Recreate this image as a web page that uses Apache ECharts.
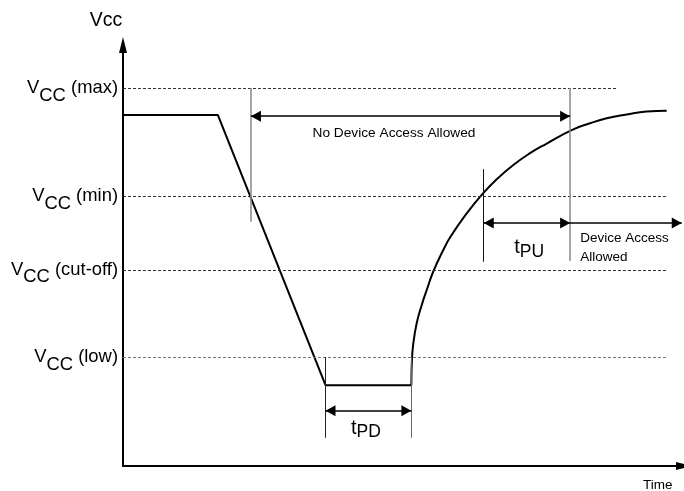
<!DOCTYPE html>
<html><head><meta charset="utf-8">
<script src="https://cdn.jsdelivr.net/npm/echarts@6/dist/echarts.min.js"></script>
<style>html,body{margin:0;padding:0;background:#fff}#c{width:684px;height:491px}</style>
</head><body><div id="c"></div>
<script>
const FONT = '"Liberation Sans",Arial,Helvetica,sans-serif';

// Supply voltage levels (y axis units 0..100)
const levelLabels = ['max', 'min', 'cut-off', 'low'];
const levelValues = [89.8, 64.1, 46.6, 25.8];
const levelLineEnds = [88.2, 97.0, 97.0, 97.0];

// Power-down part of Vcc (time, volts)
const fallTimes = [0, 16.9, 36.1, 51.4];
const fallVolts = [83.4, 83.4, 19.2, 19.2];

// Power-up recovery curve of Vcc
const riseTimes = [51.4, 51.5, 51.75, 52.35, 53.24, 54.14, 55.31, 57.09, 58.4, 61.27, 63.94, 66.61, 69.57, 72.55, 75.53, 79.98, 83.24, 86.22, 89.79, 93.35, 96.92];
const riseVolts = [19.2, 25.2, 29.1, 33.9, 38.2, 41.8, 46.2, 51.3, 54.5, 60.0, 64.4, 68.1, 71.5, 74.3, 76.6, 79.8, 81.4, 82.6, 83.5, 84.2, 84.4];

// Vertical timing guide lines
const guideTimes = [22.8, 79.7, 64.3, 36.1, 51.4];
const guideTops = [89.8, 89.8, 70.5, 25.9, 25.9];
const guideBottoms = [58.0, 48.7, 48.5, 6.7, 6.7];

// Dimension arrows
const arrowFrom = [22.8, 64.3, 79.7, 36.1];
const arrowTo = [79.7, 79.7, 99.6, 51.4];
const arrowLevel = [83.1, 57.7, 57.7, 13.1];
const arrowBothEnds = [true, true, false, true];

// Annotation texts and anchors
const noteTexts = ['No Device Access Allowed', '{t|t}{p|PU}', '{t|t}{p|PD}', 'Device Access\nAllowed'];
const noteTimes = [48.3, 72.4, 43.3, 81.5];
const noteVolts = [79.1, 51.8, 9.0, 51.9];

const fallData = fallTimes.map((t, i) => [t, fallVolts[i]]);
const riseData = riseTimes.map((t, i) => [t, riseVolts[i]]);

const richSub = {
  v: { fontSize: 18.4, fontFamily: FONT, color: '#000' },
  s: { fontSize: 18.4, fontFamily: FONT, color: '#000', padding: [15, 0, 0, 0] },
  t: { fontSize: 20, fontFamily: FONT, color: '#000' },
  p: { fontSize: 17.5, fontFamily: FONT, color: '#000', padding: [8, 0, 0, 0] }
};

const levelLines = levelValues.map((v, i) => [
  {
    coord: [0, v], symbol: 'none',
    lineStyle: { type: [3, 2], color: i === 3 ? '#777' : '#333', width: 1 },
    label: { show: true, position: 'start', distance: 5, formatter: '{v|V}{s|CC}{v| (' + levelLabels[i] + ')}', rich: richSub }
  },
  { coord: [levelLineEnds[i], v], symbol: 'none' }
]);

const guideColors = ['#888', '#888', '#111', '#222', '#666'];
const guideWidths = [1.5, 1.5, 1, 1, 1];
const guideLines = guideTimes.map((t, i) => [
  { coord: [t, guideTops[i]], symbol: 'none', lineStyle: { type: 'solid', color: guideColors[i], width: guideWidths[i] } },
  { coord: [t, guideBottoms[i]], symbol: 'none' }
]);

const head = { symbol: 'triangle', symbolSize: [11, 10], symbolOffset: [0, 5] };
const arrowLines = arrowFrom.map((f, i) => [
  Object.assign({ coord: [f, arrowLevel[i]], lineStyle: { type: 'solid', color: '#000', width: 1.5 } },
    arrowBothEnds[i] ? head : { symbol: 'none' }),
  Object.assign({ coord: [arrowTo[i], arrowLevel[i]] }, head)
]);

const notes = noteTexts.map((txt, i) => {
  const item = { coord: [noteTimes[i], noteVolts[i]], value: txt, label: { formatter: txt, rich: richSub } };
  if (i === 0) item.label.fontSize = 13.7;
  if (i === 3) Object.assign(item.label, { position: 'right', distance: 0, fontSize: 13.5, lineHeight: 19 });
  return item;
});

const chart = echarts.init(document.getElementById('c'), null, { renderer: 'canvas' });
chart.setOption({
  animation: false,
  backgroundColor: '#fff',
  grid: { left: 123, right: 0, top: 45, bottom: 25, containLabel: false, outerBoundsMode: 'none' },
  xAxis: {
    type: 'value', min: 0, max: 100,
    name: 'Time', nameLocation: 'end', nameGap: -41, nameMoveOverlap: false,
    nameTextStyle: { fontFamily: FONT, fontSize: 13.5, color: '#000', verticalAlign: 'top', lineHeight: 38 },
    axisLine: { show: true, symbol: ['none', 'triangle'], symbolSize: [8, 16], lineStyle: { color: '#000', width: 2 } },
    axisTick: { show: false }, axisLabel: { show: false }, splitLine: { show: false }
  },
  yAxis: {
    type: 'value', min: 0, max: 100,
    name: 'Vcc', nameLocation: 'end', nameGap: 14,
    nameTextStyle: { fontFamily: FONT, fontSize: 19.5, color: '#000', padding: [0, 34, 0, 0] },
    axisLine: { show: true, symbol: ['none', 'triangle'], symbolSize: [8, 16], lineStyle: { color: '#000', width: 2 } },
    axisTick: { show: false }, axisLabel: { show: false }, splitLine: { show: false }
  },
  series: [
    {
      type: 'line', data: fallData, showSymbol: false, clip: false, silent: true,
      lineStyle: { color: '#000', width: 2 },
      markLine: {
        silent: true, animation: false,
        label: { show: false, color: '#000', fontFamily: FONT },
        emphasis: { disabled: true },
        data: levelLines.concat(guideLines, arrowLines)
      },
      markPoint: {
        silent: true, animation: false,
        symbol: 'circle', symbolSize: 0,
        itemStyle: { color: 'transparent' },
        label: { show: true, position: 'inside', color: '#000', fontFamily: FONT },
        data: notes
      }
    },
    {
      type: 'line', data: riseData, smooth: 0.5, showSymbol: false, clip: false, silent: true,
      lineStyle: { color: '#000', width: 2 }
    }
  ]
});
</script>
</body></html>
